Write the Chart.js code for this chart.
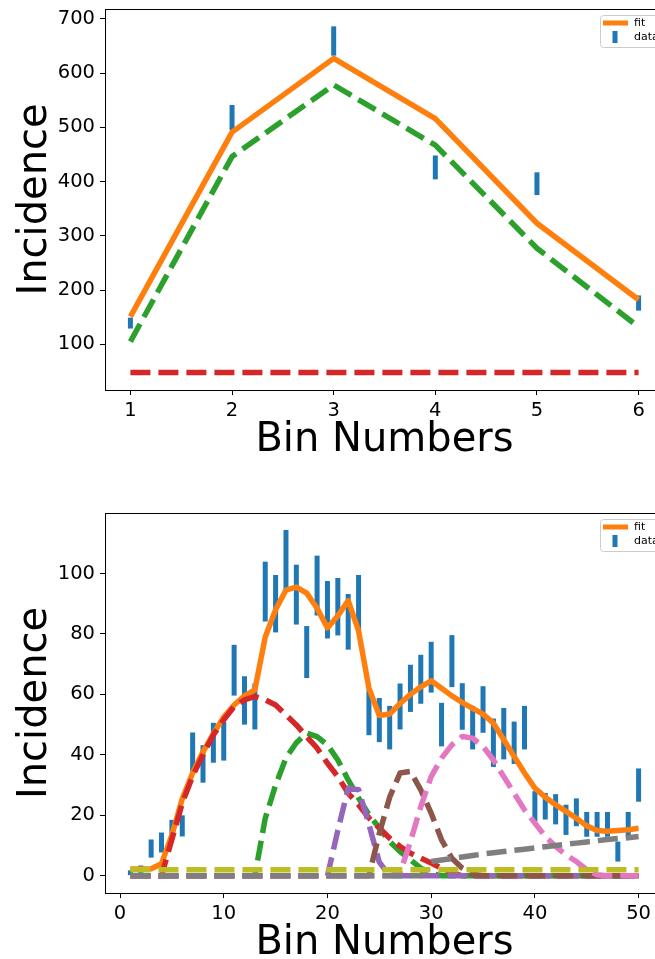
<!DOCTYPE html>
<html>
<head>
<meta charset="utf-8">
<script src="https://cdn.jsdelivr.net/npm/chart.js@4/dist/chart.umd.min.js"></script>
<style>
  html, body { margin: 0; padding: 0; background: #fff; overflow: hidden; width: 655px; height: 959px; }
  canvas { position: absolute; left: 0; }
  #c1 { top: 0; }
  #c2 { top: 480px; }
</style>
</head>
<body>
<canvas id="c1" width="700" height="480"></canvas>
<canvas id="c2" width="700" height="500"></canvas>
<script>
// ---- top panel: 6 bins ----
var binsTop = [1, 2, 3, 4, 5, 6];
var countsTop = [139, 518, 659, 426, 396, 176];
var errTop = [10, 23, 27, 22, 21, 14];
var fitTop = [151, 491, 627, 516, 323, 182];
var peakTop = [105, 446, 578, 467, 277, 132];
var bgTop = [48, 48, 48, 48, 48, 48];
var xTicksTop = [1, 2, 3, 4, 5, 6];
var yTicksTop = [100, 200, 300, 400, 500, 600, 700];

// ---- bottom panel: 50 bins ----
var binsBot = [1, 2, 3, 4, 5, 6, 7, 8, 9, 10,
               11, 12, 13, 14, 15, 16, 17, 18, 19, 20,
               21, 22, 23, 24, 25, 26, 27, 28, 29, 30,
               31, 32, 33, 34, 35, 36, 37, 38, 39, 40,
               41, 42, 43, 44, 45, 46, 47, 48, 49, 50];
var countsBot = [1, 2, 9, 11, 15.5, 16.5, 41, 37, 44, 44.5,
                 68, 58, 56, 94, 90, 104.5, 93, 74, 96, 88,
                 89, 84, 90, 54, 51.5, 49, 56, 62, 65, 69,
                 50, 71, 56, 49, 55, 44, 47, 44, 49, 23,
                 23, 22, 18.5, 21, 17, 17, 17, 8, 17, 30];
var errBot = [0.8, 1.4, 3, 3.3, 3, 3.5, 6.4, 6.2, 6.6, 6.4,
              8.4, 8, 7.6, 9.9, 9.5, 9.9, 9.9, 8.6, 9.9, 9.5,
              9.5, 9.2, 9.5, 7.5, 7.3, 7.2, 7.6, 7.8, 8.1, 8.4,
              7.2, 8.6, 7.7, 7.2, 7.7, 8, 8.5, 7, 7.2, 5,
              4.4, 5, 5, 4.6, 4.1, 4.1, 4.1, 3.3, 4.1, 5.5];
var fitBot = [2.2, 2.2, 2.3, 4, 13.5, 25.5, 34, 41, 47, 52.5,
              56.5, 59.5, 61.5, 79, 88, 94.5, 95.5, 93.5, 88.5, 82,
              86, 91, 81, 62, 53, 53.5, 57, 60, 62.5, 64.5,
              62, 59.5, 57.3, 55.4, 53.5, 50.5, 45, 39.5, 34, 29,
              26, 23.5, 21.3, 19, 16.5, 15, 14.7, 15, 15.2, 15.7];
var greenBot = [0, 0, 0, 0, 0, 0, 0, 0, 0, 0,
                0, 0, 0, 19, 30, 39, 44, 47.2, 46, 43.3,
                38.3, 31.7, 25.7, 20.2, 15.8, 11.3, 8, 5.3, 2.5, 0.7,
                0, 0, 0, 0, 0, 0, 0, 0, 0, 0,
                0, 0, 0, 0, 0, 0, 0, 0, 0, 0];
var redBot = [0, 0, 0, 0, 12, 24, 33, 40, 46.6, 51.6,
              56, 58.2, 59.3, 58.2, 56.5, 53.2, 49.9, 46, 42.2, 37.2,
              32.8, 27.3, 23.5, 19.1, 15.8, 12.4, 9.7, 7.5, 5.8, 4.2,
              2.5, 1, 0, 0, 0, 0, 0, 0, 0, 0,
              0, 0, 0, 0, 0, 0, 0, 0, 0, 0];
var purpleBot = [0, 0, 0, 0, 0, 0, 0, 0, 0, 0,
                 0, 0, 0, 0, 0, 0, 0, 0, 0, 0,
                 15, 29, 28.5, 17, 4.5, 0, 0, 0, 0, 0,
                 0, 0, 0, 0, 0, 0, 0, 0, 0, 0,
                 0, 0, 0, 0, 0, 0, 0, 0, 0, 0];
var brownBot = [0, 0, 0, 0, 0, 0, 0, 0, 0, 0,
                0, 0, 0, 0, 0, 0, 0, 0, 0, 0,
                0, 0, 0, 0, 14, 26, 34, 34.5, 28.4, 20.7,
                11.9, 5.8, 2.5, 0.5, 0, 0, 0, 0, 0, 0,
                0, 0, 0, 0, 0, 0, 0, 0, 0, 0];
var pinkBot = [0, 0, 0, 0, 0, 0, 0, 0, 0, 0,
               0, 0, 0, 0, 0, 0, 0, 0, 0, 0,
               0, 0, 0, 0, 0, 0, 1, 11.3, 22.9, 32.8,
               38.9, 43.3, 46.1, 45.5, 42.8, 38.3, 32.8, 27.3, 21.8, 17.4,
               13, 9.7, 6.9, 4.7, 2, 0.3, 0, 0, 0, 0];
var grayBot = [0, 0, 0, 0, 0, 0, 0, 0, 0, 0,
               0, 0, 0, 0, 0, 0, 0, 0, 0, 0,
               0, 0, 0, 0, 0, 0, 0, 0, 0, 4.7,
               5.2, 5.7, 6.2, 6.7, 7.2, 7.6, 8.0, 8.4, 8.8, 9.2,
               9.6, 10.0, 10.4, 10.8, 11.2, 11.6, 12.0, 12.3, 12.6, 13.0];
var oliveBot = [2, 2, 2, 2, 2, 2, 2, 2, 2, 2,
                2, 2, 2, 2, 2, 2, 2, 2, 2, 2,
                2, 2, 2, 2, 2, 2, 2, 2, 2, 2,
                2, 2, 2, 2, 2, 2, 2, 2, 2, 2,
                2, 2, 2, 2, 2, 2, 2, 2, 2, 2];
var xTicksBot = [0, 10, 20, 30, 40, 50];
var yTicksBot = [0, 20, 40, 60, 80, 100];

var FONT = 'DejaVu Sans';
var C = {
  blue: '#1f77b4', orange: '#ff7f0e', green: '#2ca02c', red: '#d62728',
  purple: '#9467bd', brown: '#8c564b', pink: '#e377c2', gray: '#7f7f7f', olive: '#bcbd22'
};

function pts(xs, ys) {
  return xs.map(function (x, i) { return { x: x, y: ys[i] }; });
}

function curve(xs, ys, color, dashed, order) {
  return {
    type: 'line', data: pts(xs, ys), borderColor: color, borderWidth: 5.5,
    borderDash: dashed ? [20, 8] : [], borderCapStyle: 'butt', borderJoinStyle: 'round',
    pointRadius: 0, tension: 0, fill: false, order: order
  };
}

// vertical error bars under everything else
var errorBars = {
  id: 'errorBars',
  beforeDatasetsDraw: function (chart, args, opts) {
    var ctx = chart.ctx, xs = chart.scales.x, ys = chart.scales.y;
    ctx.save();
    ctx.strokeStyle = C.blue;
    ctx.lineWidth = 5;
    for (var i = 0; i < opts.x.length; i++) {
      var px = xs.getPixelForValue(opts.x[i]);
      ctx.beginPath();
      ctx.moveTo(px, ys.getPixelForValue(opts.y[i] - opts.err[i]));
      ctx.lineTo(px, ys.getPixelForValue(opts.y[i] + opts.err[i]));
      ctx.stroke();
    }
    ctx.restore();
  }
};

// axes frame + small legend box in the top right corner
var frameLegend = {
  id: 'frameLegend',
  afterDatasetsDraw: function (chart) {
    var ctx = chart.ctx, a = chart.chartArea;
    ctx.save();
    ctx.strokeStyle = '#000';
    ctx.lineWidth = 1;
    ctx.strokeRect(Math.round(a.left) + 0.5, Math.round(a.top) + 0.5,
                   Math.round(a.right - a.left), Math.round(a.bottom - a.top));

    var bx = a.right - 64, by = a.top + 6;
    ctx.fillStyle = 'rgba(255,255,255,0.8)';
    ctx.strokeStyle = '#cccccc';
    ctx.beginPath();
    ctx.roundRect(bx + 0.5, by + 0.5, 90, 32, 3);
    ctx.fill();
    ctx.stroke();

    ctx.strokeStyle = C.orange;
    ctx.lineWidth = 5;
    ctx.beginPath();
    ctx.moveTo(bx + 3, by + 8);
    ctx.lineTo(bx + 28, by + 8);
    ctx.stroke();

    ctx.strokeStyle = C.blue;
    ctx.beginPath();
    ctx.moveTo(bx + 15, by + 16);
    ctx.lineTo(bx + 15, by + 28);
    ctx.stroke();

    ctx.fillStyle = '#000';
    ctx.font = '11px "' + FONT + '"';
    ctx.textBaseline = 'middle';
    ctx.fillText('fit', bx + 34, by + 8);
    ctx.fillText('data', bx + 34, by + 22);
    ctx.restore();
  }
};

function makeChart(id, p) {
  var tickFont = { family: FONT, size: 19.5 };
  var titleFont = { family: FONT, size: 40, lineHeight: 1 };
  return new Chart(document.getElementById(id), {
    data: { datasets: p.datasets },
    plugins: [errorBars, frameLegend],
    options: {
      responsive: false,
      animation: false,
      layout: { padding: { top: p.frameTop, right: 36, bottom: 0, left: 0 } },
      plugins: {
        legend: { display: false },
        tooltip: { enabled: false },
        errorBars: { x: p.ex, y: p.ey, err: p.ee }
      },
      scales: {
        x: {
          type: 'linear', min: p.xMin, max: p.xMax,
          border: { display: false },
          grid: { drawOnChartArea: false, drawTicks: true, tickLength: 5, tickColor: '#000', tickWidth: 1 },
          ticks: { font: tickFont, color: '#000', padding: 4, autoSkip: false, maxRotation: 0 },
          title: { display: true, text: 'Bin Numbers', font: titleFont, color: '#000', padding: { top: 0, bottom: p.titlePadB } },
          afterBuildTicks: function (s) { s.ticks = p.xTicks.map(function (v) { return { value: v }; }); },
          afterFit: function (s) { s.height = p.xScaleH; s.paddingLeft = 0; s.paddingRight = 0; }
        },
        y: {
          type: 'linear', min: p.yMin, max: p.yMax,
          border: { display: false },
          grid: { drawOnChartArea: false, drawTicks: true, tickLength: 5, tickColor: '#000', tickWidth: 1 },
          ticks: { font: tickFont, color: '#000', padding: 5 },
          title: { display: true, text: 'Incidence', font: titleFont, color: '#000', padding: { top: 16, bottom: 0 } },
          afterBuildTicks: function (s) { s.ticks = p.yTicks.map(function (v) { return { value: v }; }); },
          afterFit: function (s) { s.width = 105; s.paddingTop = 0; s.paddingBottom = 0; }
        }
      }
    }
  });
}

var dataPoint = function (xs, ys) {
  return { type: 'scatter', data: pts(xs, ys), pointRadius: 1.2, pointBackgroundColor: C.blue,
           pointBorderWidth: 0, showLine: false, order: 20 };
};

makeChart('c1', {
  frameTop: 9, xScaleH: 90, titlePadB: 19.5,
  xMin: 0.75, xMax: 6.25, yMin: 15.7, yMax: 718,
  xTicks: xTicksTop, yTicks: yTicksTop,
  ex: binsTop, ey: countsTop, ee: errTop,
  datasets: [
    dataPoint(binsTop, countsTop),
    curve(binsTop, fitTop, C.orange, false, 10),
    curve(binsTop, peakTop, C.green, true, 9),
    curve(binsTop, bgTop, C.red, true, 8)
  ]
});

makeChart('c2', {
  frameTop: 33, xScaleH: 87, titlePadB: 16.5,
  xMin: -1.45, xMax: 52.45, yMin: -5.7, yMax: 120,
  xTicks: xTicksBot, yTicks: yTicksBot,
  ex: binsBot, ey: countsBot, ee: errBot,
  datasets: [
    dataPoint(binsBot, countsBot),
    curve(binsBot, fitBot, C.orange, false, 10),
    curve(binsBot, greenBot, C.green, true, 9),
    curve(binsBot, redBot, C.red, true, 8),
    curve(binsBot, purpleBot, C.purple, true, 7),
    curve(binsBot, brownBot, C.brown, true, 6),
    curve(binsBot, pinkBot, C.pink, true, 5),
    curve(binsBot, grayBot, C.gray, true, 4),
    curve(binsBot, oliveBot, C.olive, true, 3)
  ]
});
</script>
</body>
</html>
